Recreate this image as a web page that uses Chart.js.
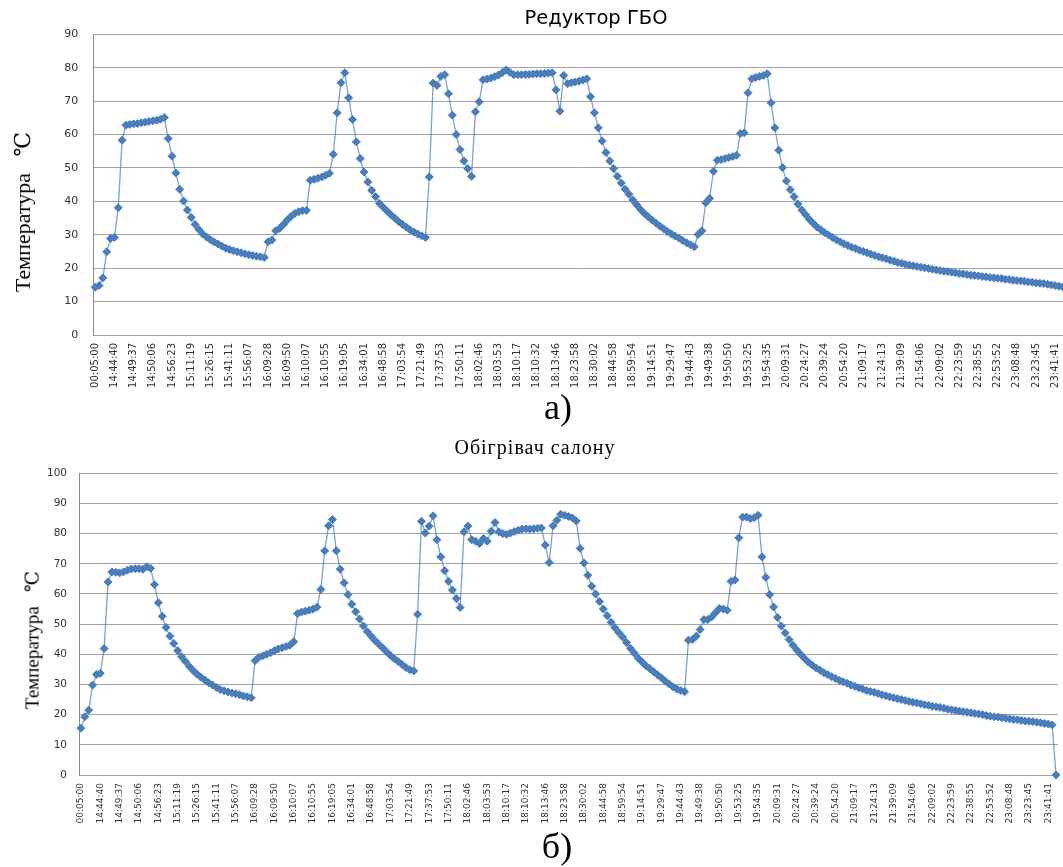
<!DOCTYPE html>
<html>
<head>
<meta charset="utf-8">
<script src="https://cdn.jsdelivr.net/npm/chart.js@4.4.1/dist/chart.umd.min.js"></script>
<style>
  html, body { margin: 0; padding: 0; background: #fff; width: 1063px; height: 867px; overflow: hidden; position: relative; }
  .pane { position: absolute; }
  .txt { position: absolute; white-space: nowrap; color: #000; transform: translate(-50%, -50%); }
  .vert { transform: translate(-50%, -50%) rotate(-90deg); }
  .serif { font-family: "Liberation Serif", "DejaVu Serif", serif; }
  .sans { font-family: "DejaVu Sans", sans-serif; }
</style>
</head>
<body>
<div class="pane" style="left:0;top:0;width:1075px;height:400px"><canvas id="gboChart" width="1075" height="400"></canvas></div>
<div class="pane" style="left:0;top:420px;width:1063px;height:447px"><canvas id="heaterChart" width="1063" height="447"></canvas></div>

<div class="txt sans" style="left:596px;top:17px;font-size:19.5px">Редуктор ГБО</div>
<div class="txt serif vert" style="left:23px;top:212px;font-size:22px">Температура&nbsp;&nbsp;&nbsp;℃</div>
<div class="txt serif" style="left:558px;top:407px;font-size:36px">а)</div>

<div class="txt serif" style="left:535px;top:447px;font-size:20px;letter-spacing:1px">Обігрівач салону</div>
<div class="txt serif vert" style="left:32px;top:640px;font-size:19px">Температура&nbsp;&nbsp;&nbsp;℃</div>
<div class="txt serif" style="left:557px;top:846px;font-size:36px">б)</div>

<script>
// Time stamps printed under every fifth reading
const timeLabels = [
  '00:05:00','14:44:40','14:49:37','14:50:06','14:56:23','15:11:19','15:26:15','15:41:11','15:56:07','16:09:28',
  '16:09:50','16:10:07','16:10:55','16:19:05','16:34:01','16:48:58','17:03:54','17:21:49','17:37:53','17:50:11',
  '18:02:46','18:03:53','18:10:17','18:10:32','18:13:46','18:23:58','18:30:02','18:44:58','18:59:54','19:14:51',
  '19:29:47','19:44:43','19:49:38','19:50:50','19:53:25','19:54:35','20:09:31','20:24:27','20:39:24','20:54:20',
  '21:09:17','21:24:13','21:39:09','21:54:06','22:09:02','22:23:59','22:38:55','22:53:52','23:08:48','23:23:45',
  '23:41:41'
];
const labelStep = 5;

// Gas reducer temperature, °C, one value per reading
const gboTemps = [
  14.3,14.8,17.1,24.9,28.9,29.2,38.1,58.3,62.8,63.0,
  63.2,63.3,63.5,63.7,63.9,64.1,64.3,64.6,65.1,58.8,
  53.5,48.5,43.6,40.1,37.4,35.2,33.1,31.6,30.2,29.3,
  28.5,27.8,27.2,26.6,26.0,25.6,25.2,24.9,24.6,24.3,
  24.0,23.8,23.6,23.4,23.2,27.9,28.4,31.2,31.9,33.1,
  34.4,35.5,36.4,36.9,37.2,37.3,46.3,46.6,46.9,47.3,
  47.8,48.4,54.1,66.5,75.5,78.5,71.0,64.5,57.8,52.8,
  48.8,45.8,43.3,41.4,39.4,38.2,37.1,36.0,35.0,34.0,
  33.1,32.3,31.5,30.8,30.2,29.7,29.2,47.3,75.4,74.7,
  77.4,77.9,72.2,65.8,60.0,55.5,52.1,49.8,47.5,66.8,
  69.8,76.4,76.6,76.9,77.3,77.8,78.5,79.3,78.6,77.9,
  77.9,77.9,78.0,78.0,78.1,78.2,78.2,78.3,78.4,78.5,
  73.4,67.0,77.7,75.2,75.5,75.7,76.0,76.3,76.7,71.3,
  66.5,62.0,58.1,54.6,52.1,49.8,47.5,45.5,43.6,42.1,
  40.4,39.0,37.6,36.4,35.4,34.4,33.5,32.6,31.8,31.0,
  30.3,29.6,29.0,28.3,27.6,27.0,26.4,30.1,31.2,39.6,
  40.9,49.0,52.3,52.5,52.8,53.1,53.4,53.8,60.3,60.5,
  72.5,76.7,77.1,77.4,77.7,78.2,69.5,62.0,55.3,50.1,
  46.1,43.5,41.4,39.2,37.4,36.0,34.6,33.4,32.3,31.5,
  30.6,29.9,29.2,28.5,27.9,27.3,26.8,26.3,25.9,25.4,
  25.0,24.6,24.2,23.8,23.4,23.1,22.8,22.4,22.1,21.7,
  21.5,21.2,20.9,20.7,20.5,20.3,20.1,19.9,19.7,19.5,
  19.3,19.1,19.0,18.8,18.6,18.4,18.3,18.1,17.9,17.8,
  17.7,17.5,17.4,17.2,17.1,17.0,16.9,16.7,16.6,16.4,
  16.3,16.2,16.1,15.9,15.8,15.6,15.5,15.4,15.2,15.0,
  14.8,14.6,14.4
];

// Cabin heater temperature, °C, one value per reading
const heaterTemps = [
  15.5,19.3,21.5,29.8,33.3,33.7,41.9,64.0,67.3,67.2,
  67.0,67.3,67.9,68.3,68.4,68.4,68.2,69.0,68.5,63.1,
  57.1,52.6,48.9,46.0,43.6,41.2,39.2,37.6,36.0,34.6,
  33.4,32.4,31.5,30.6,29.8,29.0,28.3,27.9,27.5,27.2,
  26.9,26.6,26.2,25.9,25.6,37.9,39.0,39.5,40.0,40.5,
  41.2,41.8,42.2,42.6,43.0,44.2,53.5,54.0,54.3,54.6,
  55.0,55.6,61.5,74.3,82.6,84.7,74.3,68.2,63.7,59.8,
  56.6,54.1,51.7,49.4,47.5,46.0,44.6,43.3,42.1,40.8,
  39.6,38.5,37.6,36.6,35.6,34.9,34.5,53.3,84.1,80.2,
  82.5,85.9,78.0,72.3,67.7,64.2,61.3,58.5,55.5,80.6,
  82.5,78.0,77.5,76.7,78.4,77.5,80.8,83.7,80.6,80.0,
  79.8,80.2,80.7,81.1,81.5,81.6,81.5,81.6,81.8,81.9,
  76.2,70.4,82.6,84.4,86.4,86.1,85.7,85.2,84.2,75.1,
  70.3,66.2,62.6,60.0,57.5,55.0,52.8,50.6,48.8,47.2,
  45.7,43.9,42.0,40.4,38.7,37.5,36.2,35.3,34.2,33.2,
  32.2,31.1,30.2,29.2,28.5,28.0,27.6,44.7,44.9,46.0,
  48.2,51.5,51.5,52.4,53.8,55.2,55.0,54.6,64.2,64.6,
  78.6,85.5,85.5,85.0,85.3,86.1,72.3,65.5,59.8,55.7,
  52.2,49.4,47.1,44.9,43.0,41.4,40.0,38.6,37.4,36.4,
  35.5,34.7,33.9,33.3,32.6,32.0,31.4,30.9,30.4,29.8,
  29.4,28.9,28.5,28.0,27.7,27.4,27.0,26.6,26.3,25.9,
  25.6,25.3,25.0,24.7,24.4,24.1,23.9,23.6,23.3,23.1,
  22.8,22.6,22.4,22.1,21.8,21.6,21.4,21.2,21.0,20.8,
  20.6,20.4,20.2,20.0,19.7,19.5,19.3,19.2,19.0,18.8,
  18.6,18.4,18.3,18.1,17.9,17.8,17.7,17.5,17.3,17.1,
  16.9,16.6,0.0
];

const LINE_BLUE = 'rgba(74,126,187,0.72)';
const MARK_BLUE = '#4a7ebb';
const GRID_GREY = '#a3a3a3';
const AXIS_GREY = '#8c8c8c';

function buildChart(canvasId, temps, cfg) {
  const points = temps.map((t, i) => ({ x: i, y: t }));
  return new Chart(document.getElementById(canvasId), {
    type: 'line',
    data: {
      datasets: [{
        data: points,
        borderColor: LINE_BLUE,
        borderWidth: 1.3,
        pointStyle: 'rectRot',
        pointRadius: cfg.markerRadius,
        pointBackgroundColor: MARK_BLUE,
        pointBorderColor: MARK_BLUE,
        pointBorderWidth: 1,
        tension: 0,
        clip: 8
      }]
    },
    options: {
      responsive: false,
      animation: false,
      devicePixelRatio: 1,
      layout: { padding: cfg.padding },
      plugins: { legend: { display: false }, tooltip: { enabled: false }, title: { display: false } },
      scales: {
        x: {
          type: 'linear',
          min: -0.5,
          max: temps.length - 0.5,
          grid: { display: false, drawTicks: false },
          border: { display: true, color: GRID_GREY, width: 1 },
          afterBuildTicks: (scale) => {
            scale.ticks = timeLabels.map((_, k) => ({ value: k * labelStep }));
          },
          afterFit: (scale) => {
            scale.height = cfg.xAxisHeight;
            scale.paddingLeft = 0;
            scale.paddingRight = 0;
          },
          ticks: {
            autoSkip: false,
            maxRotation: 90,
            minRotation: 90,
            padding: cfg.xTickPad,
            color: '#333',
            font: { family: 'DejaVu Sans', size: cfg.xFont },
            callback: (value, index) => timeLabels[index]
          }
        },
        y: {
          min: 0,
          max: cfg.yMax,
          grid: { color: GRID_GREY, lineWidth: 1, drawTicks: false },
          border: { display: true, color: AXIS_GREY, width: 1 },
          afterFit: (scale) => {
            scale.width = cfg.yAxisWidth;
            scale.paddingTop = 0;
            scale.paddingBottom = 0;
          },
          ticks: {
            stepSize: 10,
            padding: cfg.yTickPad,
            color: '#333',
            font: { family: 'DejaVu Sans', size: cfg.yFont }
          }
        }
      }
    }
  });
}

buildChart('gboChart', gboTemps, {
  padding: { top: 34.3, left: 0, right: 10.2, bottom: 0 },
  yMax: 90,
  yAxisWidth: 93.3,
  xAxisHeight: 65,
  xTickPad: 8,
  yTickPad: 15,
  xFont: 10,
  yFont: 11,
  markerRadius: 4
});

buildChart('heaterChart', heaterTemps, {
  padding: { top: 53.3, left: 0, right: 3.9, bottom: 0 },
  yMax: 100,
  yAxisWidth: 79,
  xAxisHeight: 92,
  xTickPad: 8,
  yTickPad: 12,
  xFont: 9,
  yFont: 10.5,
  markerRadius: 4
});
</script>
</body>
</html>
